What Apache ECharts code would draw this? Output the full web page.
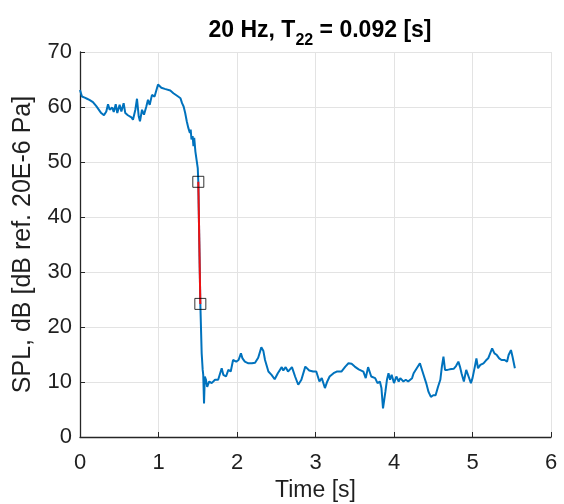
<!DOCTYPE html>
<html>
<head>
<meta charset="utf-8">
<script src="https://cdn.jsdelivr.net/npm/echarts@6/dist/echarts.min.js"></script>
<style>html,body{margin:0;padding:0;background:#fff}#c{width:564px;height:504px}</style>
</head>
<body>
<div id="c"></div>
<script>
var timeS = [0,0.025,0.06,0.09,0.12,0.145,0.165,0.21,0.27,0.305,0.335,0.357,0.378,0.41,0.43,0.455,0.475,0.505,0.527,0.556,0.577,0.61,0.655,0.675,0.705,0.726,0.748,0.764,0.79,0.815,0.845,0.866,0.888,0.917,0.95,0.994,1.036,1.08,1.15,1.19,1.21,1.25,1.28,1.30,1.32,1.325,1.34,1.36,1.38,1.40,1.41,1.42,1.435,1.445,1.455,1.47,1.485,1.50,1.507,1.533,1.55,1.563,1.57,1.58,1.59,1.605,1.62,1.647,1.677,1.72,1.76,1.805,1.826,1.86,1.89,1.92,1.95,1.99,2.02,2.05,2.07,2.10,2.145,2.19,2.23,2.27,2.31,2.335,2.357,2.40,2.44,2.48,2.52,2.57,2.59,2.62,2.65,2.70,2.74,2.78,2.82,2.87,2.89,2.92,2.97,3.01,3.05,3.08,3.12,3.15,3.18,3.23,3.27,3.33,3.38,3.42,3.46,3.50,3.55,3.61,3.64,3.67,3.71,3.76,3.79,3.82,3.84,3.86,3.89,3.91,3.93,3.95,3.97,4.0,4.03,4.06,4.08,4.12,4.15,4.18,4.23,4.25,4.29,4.31,4.33,4.35,4.37,4.41,4.44,4.47,4.50,4.53,4.56,4.59,4.61,4.63,4.65,4.68,4.71,4.76,4.79,4.82,4.84,4.86,4.89,4.92,4.95,4.98,5.00,5.03,5.05,5.07,5.10,5.12,5.14,5.17,5.20,5.22,5.25,5.28,5.31,5.34,5.37,5.41,5.44,5.46,5.49,5.51,5.54];
var splDB = [63.1,61.9,61.7,61.5,61.3,61.5,60.9,60.1,58.9,58.5,59.2,60.5,59.5,59.9,59.1,60.5,58.9,60.4,59.2,60.7,58.9,58.5,58.1,57.7,59.5,61.5,58.3,57.4,59.5,58.6,60.1,61.3,60.4,62.2,61.9,64.1,63.5,63.3,63.0,62.5,62.8,61.9,61.6,60.7,60.1,60.4,58.9,57.4,56.2,55.3,55.9,54.1,54.7,52.9,54.4,51.9,50.4,48.9,46.4,24.2,15.2,12.2,11.3,6.1,11.0,10.4,9.1,10.1,9.8,10.4,10.4,12.5,11.3,11.0,12.2,11.9,14.0,13.7,14.0,15.2,14.3,13.7,13.4,13.4,13.5,14.4,16.3,15.7,14.0,11.9,11.3,10.5,11.6,12.7,12.1,12.7,11.9,12.7,11.0,9.5,10.4,12.8,13.1,12.1,11.9,11.9,10.1,10.7,8.9,10.1,11.0,11.6,11.9,11.9,12.8,13.4,13.3,12.8,12.3,11.9,10.7,12.7,11.0,10.7,9.8,10.1,8.9,5.2,8.2,10.4,11.6,10.4,11.3,9.8,11.0,10.1,10.7,10.1,10.4,10.1,10.7,11.6,12.5,12.2,13.4,13.1,11.6,9.8,8.2,7.3,7.6,7.6,9.1,10.4,12.8,14.6,12.2,12.2,12.3,12.4,12.9,13.7,12.8,11.6,10.1,12.2,11.0,9.8,10.7,12.8,14.3,12.5,13.1,12.8,13.4,13.9,14.3,14.6,16.1,15.2,14.9,14.3,14.0,14.0,13.7,14.9,15.8,14.6,12.5];
var fitTime = [1.507, 1.533];
var fitSPL = [46.4, 24.2];
var xTicks = [0,1,2,3,4,5,6];
var yTicks = [0,10,20,30,40,50,60,70];

function pairs(xs, ys){ var o=[]; for (var i=0;i<xs.length;i++) o.push([xs[i], ys[i]]); return o; }

var chart = echarts.init(document.getElementById('c'), null, {renderer:'canvas'});
var font = 'Liberation Sans, Arial, Helvetica, sans-serif';
var axisCol = '#1f1f1f';
chart.setOption({
  animation: false,
  backgroundColor: '#ffffff',
  title: {
    text: '{a|20 Hz, T}{s|22}{a| = 0.092 [s]}',
    left: 315, top: 11, textAlign: 'center',
    textStyle: {
      rich: {
        a: {fontFamily: font, fontSize: 23, fontWeight: 'bold', color: '#000', lineHeight: 26, verticalAlign: 'bottom'},
        s: {fontFamily: font, fontSize: 16, fontWeight: 'bold', color: '#000', padding: [0,0,-7,0], verticalAlign: 'bottom'}
      }
    }
  },
  grid: {left: 80, right: 13, top: 52, bottom: 67, containLabel: false, outerBoundsMode: 'none'},
  xAxis: {
    type: 'value', min: 0, max: 6, interval: 1,
    name: 'Time [s]', nameLocation: 'middle', nameGap: 41,
    nameTextStyle: {fontFamily: font, fontSize: 23, color: axisCol},
    axisLine: {show: true, lineStyle: {color: '#262626', width: 1.3}},
    axisTick: {show: true, inside: true, length: 5, lineStyle: {color: '#262626'}},
    axisLabel: {fontFamily: font, fontSize: 22, color: axisCol, margin: 15},
    splitLine: {show: true, lineStyle: {color: '#e3e3e3', width: 1}}
  },
  yAxis: {
    type: 'value', min: 0, max: 70, interval: 10,
    name: 'SPL, dB [dB ref. 20E-6 Pa]', nameLocation: 'middle', nameGap: 44, nameRotate: 90,
    nameTextStyle: {fontFamily: font, fontSize: 25, color: axisCol},
    axisLine: {show: true, lineStyle: {color: '#262626', width: 1.3}},
    axisTick: {show: true, inside: true, length: 5, lineStyle: {color: '#262626'}},
    axisLabel: {fontFamily: font, fontSize: 22, color: axisCol, margin: 8},
    splitLine: {show: true, lineStyle: {color: '#e3e3e3', width: 1}}
  },
  series: [
    {type: 'line', data: pairs(timeS, splDB), showSymbol: false, lineStyle: {color: '#0072BD', width: 2}, z: 2},
    {type: 'line', data: pairs(fitTime, fitSPL), showSymbol: false, lineStyle: {color: '#ee1111', width: 2}, z: 3},
    {type: 'scatter', data: pairs(fitTime, fitSPL), symbol: 'rect', symbolSize: 11,
     itemStyle: {color: 'rgba(0,0,0,0)', borderColor: '#000', borderWidth: 1}, z: 4}
  ]
});
</script>
</body>
</html>
